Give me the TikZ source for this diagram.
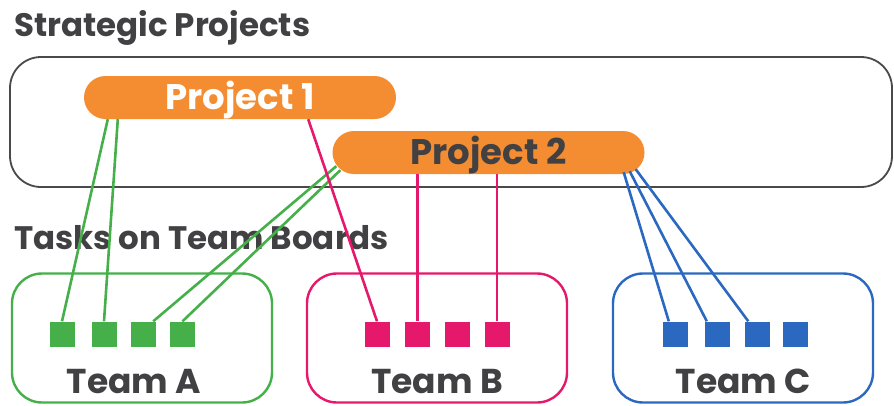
\documentclass[tikz,border=0pt]{standalone}
\usepackage{fontspec}
\setmainfont{Poppins}
\definecolor{projorange}{HTML}{F48D31}
\definecolor{teamgreen}{HTML}{45B04A}
\definecolor{teampink}{HTML}{E6186C}
\definecolor{teamblue}{HTML}{2A69BF}
\definecolor{inkgray}{HTML}{414042}
\definecolor{framegray}{HTML}{4A4A4A}

\begin{document}
\begin{tikzpicture}[x=1pt,y=-1pt,
  heading/.style={anchor=base west, inner sep=0pt, text=inkgray, font=\fontsize{32.5}{32.5}\selectfont\bfseries},
  pill/.style={fill=projorange, rounded corners=21.5pt, minimum width=312pt, minimum height=43pt, inner sep=0pt,
    text height=24pt, text depth=0pt, font=\fontsize{35.5}{35.5}\selectfont\bfseries},
  board/.style={draw, line width=2.4pt, rounded corners=30pt, minimum width=260pt, minimum height=129pt, inner sep=0pt},
  task/.style={minimum size=25pt, inner sep=0pt},
  teamlabel/.style={anchor=base, inner sep=0pt, text=inkgray, font=\fontsize{34.5}{34.5}\selectfont\bfseries},
  link/.style={line width=2.6pt}]
\useasboundingbox (0,0) rectangle (894,405);

% strategic level
\node[heading] (strathead) at (14,36) {Strategic Projects};
\draw[framegray, line width=1.8pt, rounded corners=31pt] (10,57) rectangle (892,187);
\node[pill, text=white] (p1) at (240,97.5) {Project 1};
\node[pill, text=inkgray] (p2) at (488.5,152.5) {Project 2};

% team boards
\node[heading] (taskhead) at (14,249) {Tasks on Team Boards};
\node[board, teamgreen] (teamA) at (142,338) {};
\node[board, teampink] (teamB) at (437,338) {};
\node[board, teamblue] (teamC) at (743,338) {};
\node[teamlabel] (labelA) at (134,393) {Team A};
\node[teamlabel] (labelB) at (437,393) {Team B};
\node[teamlabel] (labelC) at (743.5,393) {Team C};

\node[task, fill=teamgreen] (a1) at (62,334) {};
\node[task, fill=teamgreen] (a2) at (104,334) {};
\node[task, fill=teamgreen] (a3) at (143.5,334) {};
\node[task, fill=teamgreen] (a4) at (182.5,334) {};
\node[task, fill=teampink] (b1) at (377,334) {};
\node[task, fill=teampink] (b2) at (417.5,334) {};
\node[task, fill=teampink] (b3) at (457.5,334) {};
\node[task, fill=teampink] (b4) at (497,334) {};
\node[task, fill=teamblue] (c1) at (675.5,334) {};
\node[task, fill=teamblue] (c2) at (717.5,334) {};
\node[task, fill=teamblue] (c3) at (757,334) {};
\node[task, fill=teamblue] (c4) at (795.5,334) {};

% links
\draw[link, teamgreen] ([xshift=24pt]p1.south west) -- (a1.north);
\draw[link, teamgreen] ([xshift=34pt]p1.south west) -- (a2.north);
\draw[link, teamgreen] ([xshift=4pt,yshift=8pt]p2.south west) -- ([xshift=-3pt]a3.north east);
\draw[link, teamgreen] ([xshift=8pt,yshift=4pt]p2.south west) -- (a4.north);
\draw[link, teampink] ([xshift=-88pt]p1.south east) -- (b1.north);
\draw[link, teampink] (b2.north |- p2.south) -- (b2.north);
\draw[link, teampink] (b4.north |- p2.south) -- (b4.north);
\draw[link, teamblue] ([xshift=-21pt,yshift=2pt]p2.south east) -- ([xshift=6pt]c1.north west);
\draw[link, teamblue] ([xshift=-15pt,yshift=3pt]p2.south east) -- ([xshift=2pt]c2.north west);
\draw[link, teamblue] ([xshift=-9pt,yshift=5pt]p2.south east) -- ([xshift=4pt]c3.north west);
\end{tikzpicture}
\end{document}
